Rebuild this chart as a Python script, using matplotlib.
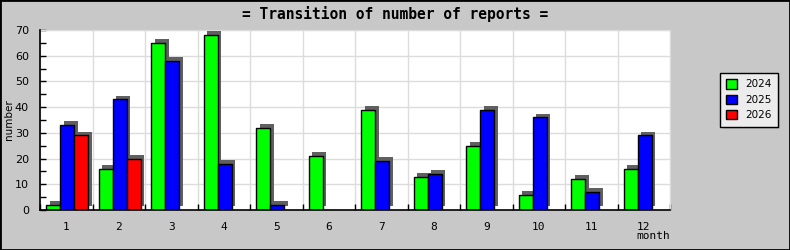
import matplotlib
matplotlib.use("Agg")
import matplotlib.pyplot as plt
import matplotlib.patheffects as pe
from matplotlib.patches import Patch, Rectangle
from matplotlib.ticker import MultipleLocator

# ---------- DATA ----------
months = ["1", "2", "3", "4", "5", "6", "7", "8", "9", "10", "11", "12"]
years = ["2024", "2025", "2026"]
reports_2024 = [2, 16, 65, 68, 32, 21, 39, 13, 25, 6, 12, 16]
reports_2025 = [33, 43, 58, 18, 2, 0, 19, 14, 39, 36, 7, 29]
reports_2026 = [29, 20, 0, 0, 0, 0, 0, 0, 0, 0, 0, 0]
colors = ["#00ff00", "#0000ff", "#ff0000"]

# ---------- FIGURE ----------
W, H = 790, 250
fig = plt.figure(figsize=(W / 100, H / 100), dpi=100, facecolor="#c8c8c8")
ax = fig.add_axes([40 / W, (H - 210) / H, 630 / W, 180 / H])
ax.set_facecolor("white")

# outer black frame
fig.patches.append(Rectangle((0, 0), 1, 1, transform=fig.transFigure,
                             fill=False, edgecolor="black", linewidth=2))

# bars with a dark drop shadow up and to the right
bar_w = 0.267
offset = 0.115
shadow = [pe.SimplePatchShadow(offset=(2.8, 2.8), shadow_rgbFace="#606060", alpha=1.0),
          pe.Normal()]
for k, series in enumerate([reports_2024, reports_2025, reports_2026]):
    xs = [i + offset + k * bar_w for i, v in enumerate(series) if v > 0]
    vals = [v for v in series if v > 0]
    bars = ax.bar(xs, vals, width=bar_w, align="edge", color=colors[k],
                  edgecolor="black", linewidth=1, zorder=3 + k)
    for b in bars:
        b.set_path_effects(shadow)

# axes
ax.set_xlim(0, 12)
ax.set_ylim(0, 70)
ax.yaxis.set_major_locator(MultipleLocator(10))
ax.yaxis.set_minor_locator(MultipleLocator(5))
ax.set_xticks(range(13))
ax.set_xticklabels([])
ax.tick_params(axis="both", which="both", direction="in", length=4,
               width=1, color="black")
ax.tick_params(axis="y", labelsize=8, pad=8)
ax.tick_params(axis="x", which="major", top=False)
for i, m in enumerate(months):
    ax.text(i + 0.5, -6.5, m, ha="center", va="center", fontsize=8,
            family="DejaVu Sans Mono")

ax.grid(True, which="major", color="#dcdcdc", linewidth=1, zorder=0)
ax.set_axisbelow(True)
for s in ["top", "right"]:
    ax.spines[s].set_color("#dcdcdc")
for s in ["left", "bottom"]:
    ax.spines[s].set_color("black")
    ax.spines[s].set_linewidth(1.2)
    ax.spines[s].set_zorder(10)

# labels
fig.text(395 / W, 1 - 14 / H, "= Transition of number of reports =",
         ha="center", va="center", fontsize=10.5, fontweight="semibold",
         family="DejaVu Sans Mono")
fig.text(9 / W, 1 - 120 / H, "number", rotation=90, ha="center",
         va="center", fontsize=7.5)
fig.text(670 / W, 1 - 236 / H, "month", ha="right", va="center",
         fontsize=8, family="DejaVu Sans Mono")

# legend
handles = [Patch(facecolor=c, edgecolor="black", label=y)
           for c, y in zip(colors, years)]
leg = fig.legend(handles=handles, loc="upper left",
                 bbox_to_anchor=(720 / W, 1 - 73 / H), fontsize=7.5,
                 frameon=True, fancybox=False,
                 shadow={"facecolor": "#b4b4b4", "edgecolor": "none", "alpha": 1},
                 handlelength=1.0, handleheight=1.0, handletextpad=0.8,
                 labelspacing=0.5, borderpad=0.6, borderaxespad=0)
leg.get_frame().set_facecolor("#ececec")
leg.get_frame().set_edgecolor("black")
leg.get_frame().set_alpha(1)

fig.savefig("out.png", dpi=100, facecolor=fig.get_facecolor())
